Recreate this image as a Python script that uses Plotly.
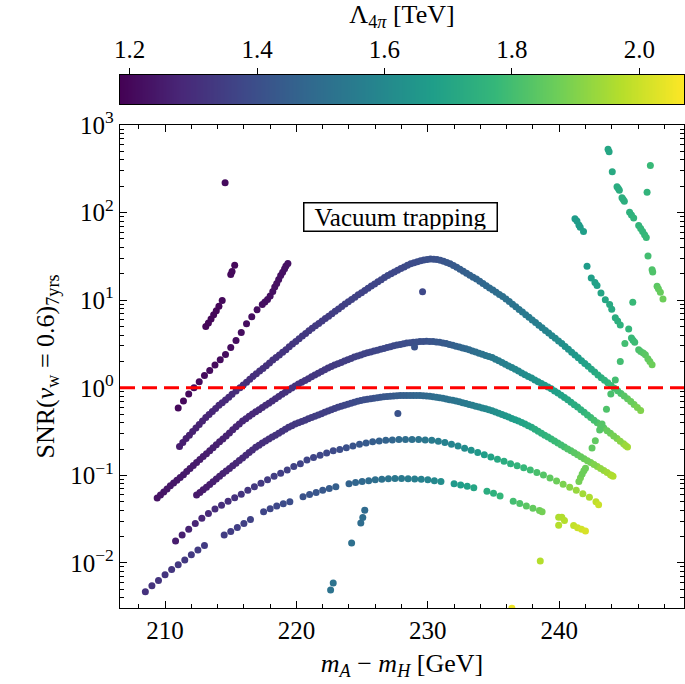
import numpy as np
import plotly.graph_objects as go

# ---------------- data ----------------
ARC1_X = [211.1, 211.6, 212.1, 212.6, 213.1, 213.6, 214.1, 214.6, 215.1, 215.7, 216.2, 216.7, 217.2, 217.7, 218.2,
          218.7, 219.2, 219.7, 220.2, 220.7, 221.2, 221.7, 222.2, 222.7, 223.2, 223.7, 224.2, 224.7, 225.2, 225.7,
          226.2, 226.7, 227.2, 227.7, 228.2, 228.7, 229.2, 229.7, 230.2, 230.7, 231.2, 231.7, 232.2, 232.7, 233.2,
          233.7, 234.2, 234.7, 235.2, 235.7, 236.2, 236.7, 237.2, 237.7, 238.2, 238.7, 239.2, 239.7, 240.2, 240.7,
          241.2, 241.7, 242.2, 242.7, 243.2, 243.7, 244.2, 244.7, 245.2, 245.7, 246.2]
ARC1_Y = [0.214, 0.263, 0.316, 0.380, 0.457, 0.537, 0.631, 0.724, 0.841, 1.00, 1.16, 1.35, 1.55, 1.78, 2.07,
          2.37, 2.72, 3.16, 3.63, 4.17, 4.79, 5.43, 6.17, 7.00, 7.94, 9.02, 10.2, 11.5, 12.9, 14.5,
          16.2, 18.2, 20.0, 21.9, 24.0, 26.0, 27.5, 28.8, 29.5, 29.2, 27.9, 26.0, 23.7, 21.4, 19.3,
          17.4, 15.5, 13.8, 12.3, 11.0, 9.66, 8.41, 7.33, 6.38, 5.56, 4.84, 4.22, 3.67, 3.20, 2.75,
          2.37, 2.04, 1.76, 1.51, 1.30, 1.14, 0.989, 0.861, 0.750, 0.646, 0.550]
ARC1_L = [1.255, 1.26, 1.265, 1.27, 1.275, 1.28, 1.285, 1.29, 1.295, 1.30, 1.30, 1.305, 1.31, 1.31, 1.315,
          1.32, 1.32, 1.325, 1.33, 1.33, 1.335, 1.34, 1.34, 1.345, 1.35, 1.355, 1.36, 1.36, 1.365, 1.37,
          1.37, 1.375, 1.38, 1.38, 1.385, 1.39, 1.395, 1.40, 1.405, 1.41, 1.42, 1.43, 1.44, 1.45, 1.46,
          1.47, 1.48, 1.49, 1.50, 1.51, 1.52, 1.53, 1.54, 1.55, 1.56, 1.575, 1.59, 1.605, 1.62, 1.64,
          1.66, 1.68, 1.70, 1.72, 1.745, 1.77, 1.795, 1.82, 1.85, 1.875, 1.90]
# further readings of the same (dense) band, between the points above
ARC1B_X = [211.35, 211.85, 212.35, 212.85, 213.35, 213.85, 214.35, 214.85, 215.4, 215.95, 216.45, 216.95, 217.45,
           217.95, 218.45, 218.95, 219.45, 219.95, 220.45, 220.95, 221.45, 221.95, 222.45, 222.95, 223.45, 223.95,
           224.45, 224.95, 225.45, 225.95, 226.45, 226.95, 227.45, 227.95, 228.45, 228.95, 229.45, 229.95, 230.45,
           230.95, 231.45, 231.95, 232.45, 232.95, 233.45, 233.95, 234.45, 234.95, 235.45, 235.95, 236.45, 236.95,
           237.45, 237.95, 238.45, 238.95, 239.45, 239.95, 240.45, 240.95, 241.45, 241.95, 242.45, 242.95, 243.45,
           243.95, 244.45, 244.95, 245.45, 245.95]
ARC1B_Y = [0.237, 0.288, 0.347, 0.417, 0.495, 0.582, 0.676, 0.780, 0.917, 1.077, 1.251, 1.447, 1.661, 1.920,
           2.215, 2.539, 2.932, 3.387, 3.891, 4.469, 5.100, 5.788, 6.572, 7.455, 8.463, 9.592, 10.83, 12.18, 13.68,
           15.33, 17.17, 19.08, 20.93, 22.93, 24.98, 26.74, 28.14, 29.15, 29.35, 28.54, 26.93, 24.82, 22.52, 20.32,
           18.33, 16.42, 14.63, 13.03, 11.63, 10.31, 9.013, 7.852, 6.838, 5.956, 5.187, 4.519, 3.935, 3.427, 2.966,
           2.553, 2.199, 1.895, 1.630, 1.401, 1.217, 1.062, 0.923, 0.804, 0.696, 0.596]
ARC1B_L = [1.2575, 1.2625, 1.2675, 1.2725, 1.2775, 1.2825, 1.2875, 1.2925, 1.2975, 1.30, 1.3025, 1.3075, 1.31,
           1.3125, 1.3175, 1.32, 1.3225, 1.3275, 1.33, 1.3325, 1.3375, 1.34, 1.3425, 1.3475, 1.3525, 1.3575, 1.36,
           1.3625, 1.3675, 1.37, 1.3725, 1.3775, 1.38, 1.3825, 1.3875, 1.3925, 1.3975, 1.4025, 1.4075, 1.415, 1.425,
           1.435, 1.445, 1.455, 1.465, 1.475, 1.485, 1.495, 1.505, 1.515, 1.525, 1.535, 1.545, 1.555, 1.5675, 1.5825,
           1.5975, 1.6125, 1.63, 1.65, 1.67, 1.69, 1.71, 1.7325, 1.7575, 1.7825, 1.8075, 1.835, 1.8625, 1.8875]

ARC2_X = [209.4, 209.9, 210.4, 210.9, 211.4, 211.9, 212.4, 212.9, 213.4, 213.9,
          214.4, 214.9, 215.4, 215.9, 216.4, 216.9, 217.4, 217.9, 218.4, 218.9,
          219.4, 219.9, 220.4, 220.9, 221.4, 221.9, 222.4, 222.9, 223.4, 223.9,
          224.4, 224.9, 225.4, 225.9, 226.4, 226.9, 227.4, 227.9, 228.4, 228.9,
          229.4, 229.9, 230.4, 230.9, 231.4, 231.9, 232.4, 232.9, 233.4, 233.9,
          234.4, 234.9, 235.4, 235.9, 236.4, 236.9, 237.4, 237.9, 238.4, 238.9,
          239.4, 239.9, 240.4, 240.9, 241.4, 241.9, 242.4, 242.9, 243.4, 243.9,
          244.4, 244.9, 245.2]
ARC2_Y = [0.0550, 0.0646, 0.0759, 0.0881, 0.102, 0.120, 0.140, 0.164, 0.191, 0.224,
          0.260, 0.305, 0.359, 0.417, 0.473, 0.531, 0.596, 0.668, 0.750, 0.841,
          0.944, 1.05, 1.16, 1.27, 1.40, 1.53, 1.68, 1.82, 1.95, 2.09,
          2.24, 2.37, 2.51, 2.63, 2.75, 2.88, 3.02, 3.13, 3.24, 3.31,
          3.37, 3.39, 3.37, 3.31, 3.20, 3.05, 2.92, 2.79, 2.63, 2.48,
          2.34, 2.21, 2.04, 1.86, 1.70, 1.55, 1.41, 1.29, 1.17, 1.07,
          0.977, 0.871, 0.776, 0.684, 0.603, 0.525, 0.457, 0.398, 0.347, 0.302,
          0.263, 0.229, 0.211]
ARC2_L = [1.23, 1.235, 1.24, 1.24, 1.245, 1.25, 1.25, 1.255, 1.26, 1.26,
          1.265, 1.27, 1.275, 1.28, 1.285, 1.29, 1.295, 1.30, 1.305, 1.31,
          1.315, 1.32, 1.32, 1.325, 1.33, 1.33, 1.335, 1.34, 1.345, 1.35,
          1.355, 1.36, 1.365, 1.37, 1.375, 1.38, 1.385, 1.39, 1.395, 1.40,
          1.405, 1.41, 1.42, 1.43, 1.44, 1.455, 1.47, 1.485, 1.50, 1.515,
          1.53, 1.545, 1.56, 1.575, 1.59, 1.60, 1.615, 1.63, 1.645, 1.66,
          1.675, 1.69, 1.705, 1.72, 1.74, 1.765, 1.79, 1.82, 1.845, 1.87,
          1.895, 1.925, 1.95]
ARC2B_X = [209.65, 210.15, 210.65, 211.15, 211.65, 212.15, 212.65, 213.15, 213.65, 214.15,
           214.65, 215.15, 215.65, 216.15, 216.65, 217.15, 217.65, 218.15, 218.65, 219.15,
           219.65, 220.15, 220.65, 221.15, 221.65, 222.15, 222.65, 223.15, 223.65, 224.15,
           224.65, 225.15, 225.65, 226.15, 226.65, 227.15, 227.65, 228.15, 228.65, 229.15,
           229.65, 230.15, 230.65, 231.15, 231.65, 232.15, 232.65, 233.15, 233.65, 234.15,
           234.65, 235.15, 235.65, 236.15, 236.65, 237.15, 237.65, 238.15, 238.65, 239.15,
           239.65, 240.15, 240.65, 241.15, 241.65, 242.15, 242.65, 243.15, 243.65, 244.15,
           244.65, 245.05]
ARC2B_Y = [0.0596, 0.0700, 0.0818, 0.0948, 0.1106, 0.1296, 0.1515, 0.1770, 0.2068, 0.2413,
           0.2816, 0.3309, 0.3869, 0.4441, 0.5012, 0.5626, 0.6310, 0.7078, 0.7942, 0.8910,
           0.9956, 1.104, 1.214, 1.333, 1.464, 1.603, 1.749, 1.884, 2.019, 2.164,
           2.304, 2.439, 2.569, 2.689, 2.814, 2.949, 3.075, 3.185, 3.275, 3.340,
           3.380, 3.380, 3.340, 3.255, 3.124, 2.984, 2.854, 2.709, 2.554, 2.409,
           2.274, 2.123, 1.948, 1.778, 1.623, 1.478, 1.349, 1.229, 1.119, 1.022,
           0.922, 0.822, 0.729, 0.642, 0.563, 0.490, 0.426, 0.372, 0.324, 0.282,
           0.245, 0.220]
ARC2B_L = [1.2325, 1.2375, 1.24, 1.2425, 1.2475, 1.25, 1.2525, 1.2575, 1.26, 1.2625,
           1.2675, 1.2725, 1.2775, 1.2825, 1.2875, 1.2925, 1.2975, 1.3025, 1.3075, 1.3125,
           1.3175, 1.32, 1.3225, 1.3275, 1.33, 1.3325, 1.3375, 1.3425, 1.3475, 1.3525,
           1.3575, 1.3625, 1.3675, 1.3725, 1.3775, 1.3825, 1.3875, 1.3925, 1.3975, 1.4025,
           1.4075, 1.415, 1.425, 1.435, 1.4475, 1.4625, 1.4775, 1.4925, 1.5075, 1.5225,
           1.5375, 1.5525, 1.5675, 1.5825, 1.595, 1.6075, 1.6225, 1.6375, 1.6525, 1.6675,
           1.6825, 1.6975, 1.7125, 1.73, 1.7525, 1.7775, 1.805, 1.8325, 1.8575, 1.8825,
           1.91, 1.9375]

ARC3_X = [212.4, 212.9, 213.4, 213.9, 214.4, 214.9, 215.4, 215.9, 216.4, 216.9,
          217.4, 217.9, 218.4, 218.9, 219.4, 219.9, 220.4, 220.9, 221.4, 221.9,
          222.4, 222.9, 223.4, 223.9, 224.4, 224.9, 225.4, 225.9, 226.4, 226.9,
          227.4, 227.9, 228.4, 228.9, 229.4, 229.9, 230.4, 230.9, 231.4, 231.9,
          232.4, 232.9, 233.4, 233.9, 234.4, 234.9, 235.4, 235.9, 236.4, 236.9,
          237.4, 237.9, 238.4, 238.9, 239.4, 239.9, 240.4, 240.9, 241.4, 241.9,
          242.4, 242.9, 243.4, 243.9, 244.1]
ARC3_Y = [0.0596, 0.0684, 0.0785, 0.0912, 0.105, 0.120, 0.138, 0.158, 0.182, 0.209,
          0.234, 0.260, 0.288, 0.320, 0.355, 0.385, 0.412, 0.442, 0.473, 0.507,
          0.543, 0.582, 0.617, 0.650, 0.684, 0.716, 0.741, 0.762, 0.780, 0.796,
          0.807, 0.815, 0.818, 0.818, 0.815, 0.805, 0.791, 0.771, 0.746, 0.719,
          0.692, 0.661, 0.631, 0.603, 0.575, 0.547, 0.513, 0.479, 0.447, 0.417,
          0.385, 0.355, 0.320, 0.288, 0.260, 0.234, 0.211, 0.191, 0.172, 0.155,
          0.140, 0.126, 0.114, 0.102, 0.0977]
ARC3_L = [1.245, 1.25, 1.255, 1.26, 1.27, 1.275, 1.28, 1.29, 1.295, 1.30,
          1.305, 1.31, 1.315, 1.32, 1.325, 1.33, 1.335, 1.34, 1.345, 1.35,
          1.355, 1.36, 1.37, 1.38, 1.385, 1.395, 1.40, 1.41, 1.42, 1.43,
          1.44, 1.45, 1.46, 1.47, 1.48, 1.49, 1.50, 1.51, 1.515, 1.525,
          1.535, 1.55, 1.565, 1.58, 1.595, 1.615, 1.635, 1.65, 1.67, 1.685,
          1.70, 1.72, 1.74, 1.755, 1.775, 1.79, 1.81, 1.83, 1.85, 1.865,
          1.885, 1.91, 1.93, 1.955, 1.97]
ARC3B_X = [212.65, 213.15, 213.65, 214.15, 214.65, 215.15, 215.65, 216.15, 216.65, 217.15,
           217.65, 218.15, 218.65, 219.15, 219.65, 220.15, 220.65, 221.15, 221.65, 222.15,
           222.65, 223.15, 223.65, 224.15, 224.65, 225.15, 225.65, 226.15, 226.65, 227.15,
           227.65, 228.15, 228.65, 229.15, 229.65, 230.15, 230.65, 231.15, 231.65, 232.15,
           232.65, 233.15, 233.65, 234.15, 234.65, 235.15, 235.65, 236.15, 236.65, 237.15,
           237.65, 238.15, 238.65, 239.15, 239.65, 240.15, 240.65, 241.15, 241.65, 242.15,
           242.65, 243.15, 243.65, 244.0]
ARC3B_Y = [0.0638, 0.0733, 0.0846, 0.0979, 0.1122, 0.1287, 0.1477, 0.1696, 0.1950, 0.2211,
           0.2467, 0.2736, 0.3036, 0.3370, 0.3697, 0.3983, 0.4267, 0.4572, 0.4897, 0.5247,
           0.5622, 0.5992, 0.6333, 0.6668, 0.6998, 0.7284, 0.7514, 0.7709, 0.7880, 0.8015,
           0.8110, 0.8165, 0.818, 0.8165, 0.8100, 0.7980, 0.7809, 0.7584, 0.7324, 0.7054,
           0.6763, 0.6458, 0.6168, 0.5888, 0.5608, 0.5297, 0.4957, 0.4627, 0.4317, 0.4007,
           0.3697, 0.3371, 0.3036, 0.2736, 0.2467, 0.2222, 0.2007, 0.1813, 0.1633, 0.1473,
           0.1328, 0.1198, 0.1078, 0.0998]
ARC3B_L = [1.2475, 1.2525, 1.2575, 1.265, 1.2725, 1.2775, 1.285, 1.2925, 1.2975, 1.3025,
           1.3075, 1.3125, 1.3175, 1.3225, 1.3275, 1.3325, 1.3375, 1.3425, 1.3475, 1.3525,
           1.3575, 1.365, 1.375, 1.3825, 1.39, 1.3975, 1.405, 1.415, 1.425, 1.435,
           1.445, 1.455, 1.465, 1.475, 1.485, 1.495, 1.505, 1.5125, 1.52, 1.53,
           1.5425, 1.5575, 1.5725, 1.5875, 1.605, 1.625, 1.6425, 1.66, 1.6775, 1.6925,
           1.71, 1.73, 1.7475, 1.765, 1.7825, 1.80, 1.82, 1.84, 1.8575, 1.875,
           1.8975, 1.92, 1.9425, 1.9625]

ARC4_X = [210.8, 211.3, 211.8, 212.3, 212.8, 213.3, 213.8, 214.3, 214.8, 215.3,
          215.8, 216.3, 216.8, 217.3, 217.8, 218.3, 218.8, 219.3, 219.8, 220.3,
          220.8, 221.3, 221.8, 222.3, 222.8, 223.3, 223.8, 224.3, 224.8, 225.3,
          225.8, 226.3, 226.8, 227.3, 227.8, 228.3, 228.8, 229.3, 229.8, 230.3,
          230.8, 231.3, 231.8, 232.3, 232.8, 233.3, 233.8, 234.3, 234.8, 235.3,
          235.8, 236.3, 236.8, 237.3, 237.8, 238.3, 238.8, 239.3, 239.8, 240.3,
          240.8, 241.3, 241.8, 242.3, 242.8, 243.0]
ARC4_Y = [0.0178, 0.0209, 0.0243, 0.0282, 0.0324, 0.0367, 0.0412, 0.0457, 0.0507, 0.0556,
          0.0610, 0.0676, 0.0741, 0.0813, 0.0891, 0.0977, 0.106, 0.115, 0.126, 0.136,
          0.150, 0.160, 0.170, 0.180, 0.191, 0.197, 0.207, 0.216, 0.226, 0.234,
          0.242, 0.247, 0.251, 0.254, 0.256, 0.257, 0.257, 0.256, 0.254, 0.251,
          0.245, 0.237, 0.226, 0.216, 0.204, 0.193, 0.182, 0.172, 0.162, 0.153,
          0.145, 0.136, 0.129, 0.122, 0.115, 0.108, 0.101, 0.0933, 0.0861, 0.0794,
          0.0733, 0.0676, 0.0617, 0.0562, 0.0501, 0.0462]
ARC4_L = [1.255, 1.26, 1.27, 1.275, 1.28, 1.29, 1.295, 1.30, 1.305, 1.31,
          1.32, 1.325, 1.33, 1.335, 1.34, 1.345, 1.35, 1.355, 1.36, 1.365,
          1.37, 1.37, 1.375, 1.38, 1.385, 1.395, 1.405, 1.415, 1.425, 1.435,
          1.445, 1.455, 1.465, 1.475, 1.49, 1.50, 1.51, 1.525, 1.535, 1.55,
          1.56, 1.575, 1.585, 1.60, 1.615, 1.635, 1.655, 1.675, 1.695, 1.715,
          1.73, 1.745, 1.76, 1.775, 1.79, 1.81, 1.83, 1.85, 1.87, 1.89,
          1.91, 1.93, 1.945, 1.96, 1.985, 2.0]

ARC5_X = [208.5, 209.0, 209.5, 210.0, 210.5, 211.0, 211.5, 212.0, 212.5, 213.0,
          214.5, 215.0, 215.5, 216.0, 216.5, 217.5, 218.0, 218.5, 219.0, 219.5,
          220.5, 221.0, 221.5, 222.0, 222.5, 223.0, 224.0, 224.5, 225.0, 225.5,
          226.0, 226.5, 227.0, 227.5, 228.0, 228.5, 229.0, 229.5, 230.0, 230.5,
          231.0, 232.0, 232.5, 233.0, 233.5, 234.5, 235.0, 235.5, 236.5, 237.0,
          237.5, 238.0, 238.5, 238.7]
ARC5_Y = [0.00468, 0.00550, 0.00631, 0.00733, 0.00841, 0.00955, 0.0108, 0.0124, 0.0141, 0.0158,
          0.0209, 0.0229, 0.0254, 0.0282, 0.0313, 0.0385, 0.0417, 0.0447, 0.0473, 0.0501,
          0.0569, 0.0603, 0.0638, 0.0676, 0.0708, 0.0741, 0.0804, 0.0832, 0.0851, 0.0871,
          0.0891, 0.0906, 0.0916, 0.0923, 0.0923, 0.0918, 0.0912, 0.0902, 0.0891, 0.0871,
          0.0851, 0.0804, 0.0776, 0.0750, 0.0724, 0.0661, 0.0624, 0.0582, 0.0507, 0.0479,
          0.0447, 0.0422, 0.0398, 0.0385]
ARC5_L = [1.31, 1.315, 1.32, 1.32, 1.325, 1.33, 1.33, 1.335, 1.34, 1.34,
          1.345, 1.345, 1.35, 1.355, 1.36, 1.37, 1.375, 1.38, 1.39, 1.395,
          1.41, 1.415, 1.42, 1.43, 1.44, 1.45, 1.465, 1.475, 1.485, 1.495,
          1.505, 1.515, 1.525, 1.535, 1.545, 1.555, 1.565, 1.575, 1.585, 1.60,
          1.62, 1.66, 1.675, 1.69, 1.705, 1.735, 1.75, 1.77, 1.80, 1.82,
          1.84, 1.855, 1.87, 1.88]

TAIL_X = [239.96, 240.2, 240.4, 239.96, 241.1, 241.4, 241.7, 242.0]
TAIL_Y = [0.0333, 0.0333, 0.0305, 0.027, 0.0267, 0.0253, 0.0243, 0.0232]
TAIL_L = [1.96, 1.965, 1.97, 1.97, 1.99, 2.0, 2.01, 2.02]

L1_X = [213.1, 213.3, 213.5, 213.7, 213.9, 214.1, 214.35, 215.0, 215.1, 215.3]
L1_Y = [5.0, 5.5, 6.1, 6.8, 7.6, 8.5, 9.9, 19.6, 21.3, 25.0]
L1_L = [1.20, 1.20, 1.20, 1.20, 1.20, 1.20, 1.205, 1.205, 1.205, 1.205]

L2_X = [211.0, 211.4, 211.8, 212.2, 212.6, 213.0, 213.4, 213.8, 214.2, 214.6, 215.0, 215.4, 215.8, 216.2, 216.6,
        217.0, 217.4, 217.6, 217.8, 218.0, 218.2, 218.35, 218.5, 218.65, 218.8, 218.95, 219.1, 219.2, 219.35]
L2_Y = [0.589, 0.708, 0.851, 1.00, 1.17, 1.38, 1.58, 1.82, 2.09, 2.40, 2.88, 3.47, 4.27, 5.37, 6.46,
        7.76, 8.91, 9.55, 10.2, 11.2, 12.6, 14.1, 15.5, 17.2, 19.1, 20.9, 22.9, 24.5, 26.3]
L2_L = [1.205, 1.205, 1.206, 1.207, 1.208, 1.209, 1.21, 1.21, 1.211, 1.212, 1.213, 1.214, 1.215, 1.216, 1.217,
        1.218, 1.219, 1.22, 1.22, 1.221, 1.221, 1.222, 1.222, 1.223, 1.223, 1.224, 1.224, 1.225, 1.225]

ISO_X = [214.57, 229.6, 227.72, 228.99, 238.56, 236.4, 245.6, 245.0]
ISO_Y = [219, 12.5, 0.51, 2.92, 0.0105, 0.00305, 9.5, 3.2]
ISO_L = [1.21, 1.38, 1.41, 1.41, 1.97, 2.05, 1.78, 1.80]

TEAL_X = [222.6, 222.8, 224.2, 224.9, 225.05, 225.2]
TEAL_Y = [0.0049, 0.0059, 0.0169, 0.0286, 0.033, 0.040]
TEAL_L = [1.52, 1.52, 1.51, 1.50, 1.50, 1.49]

R1_X = [243.72, 243.8, 244.04, 244.4, 244.5, 244.58, 244.78, 244.87, 244.96, 245.36, 245.5, 245.67,
        246.05, 246.2, 246.35, 246.5, 246.63, 246.76, 247.07, 247.12, 247.45, 247.55, 247.7, 247.9]
R1_Y = [530, 495, 292, 197, 188, 180, 148, 141, 135, 101, 94, 87,
        71, 66, 61, 56, 52, 32, 22.3, 21, 14.4, 13.5, 12.3, 10.3]
R1_L = [1.71, 1.71, 1.72, 1.73, 1.73, 1.73, 1.74, 1.74, 1.74, 1.75, 1.75, 1.76,
        1.76, 1.77, 1.77, 1.77, 1.78, 1.80, 1.82, 1.82, 1.84, 1.85, 1.86, 1.87]

R2_X = [246.94, 246.69]
R2_Y = [344, 171]
R2_L = [1.78, 1.76]

R3_X = [241.2, 241.35, 241.5, 241.6, 241.85]
R3_Y = [85, 80, 72, 68, 61]
R3_L = [1.67, 1.67, 1.67, 1.67, 1.68]

R4_X = [242.12, 242.44, 242.72, 242.88, 243.18, 243.51, 243.84, 244.0, 244.27, 244.45, 244.65,
        245.29, 245.5, 245.62, 245.75, 246.05, 246.2, 246.4, 246.56, 246.75, 246.9, 247.07]
R4_Y = [24.4, 17.9, 15.9, 14.7, 12.1, 10.1, 8.9, 7.9, 6.3, 5.8, 5.2,
        4.7, 3.7, 3.5, 3.3, 2.72, 2.6, 2.5, 2.38, 2.15, 2.0, 1.83]
R4_L = [1.67, 1.68, 1.69, 1.69, 1.70, 1.71, 1.72, 1.72, 1.73, 1.74, 1.75,
        1.77, 1.78, 1.78, 1.79, 1.81, 1.82, 1.83, 1.84, 1.85, 1.86, 1.87]

R5_X = [241.5, 241.62, 241.75, 241.88, 242.0, 242.5, 242.75, 243.08, 243.26, 243.6, 243.93, 244.27, 244.65]
R5_Y = [0.085, 0.094, 0.104, 0.113, 0.121, 0.205, 0.248, 0.33, 0.385, 0.57, 0.85, 1.23, 2.0]
R5_L = [1.88, 1.88, 1.87, 1.87, 1.87, 1.85, 1.85, 1.83, 1.83, 1.82, 1.81, 1.80, 1.80]

X_TICKS = [210, 220, 230, 240]
Y_TICKS = [1e-2, 1e-1, 1e0, 1e1, 1e2, 1e3]
Y_TICKTEXT = ["10<sup>−2</sup>", "10<sup>−1</sup>", "10<sup>0</sup>", "10<sup>1</sup>", "10<sup>2</sup>", "10<sup>3</sup>"]
CB_TICKS = [1.2, 1.4, 1.6, 1.8, 2.0]
CB_TICKTEXT = ["1.2", "1.4", "1.6", "1.8", "2.0"]
CB_RANGE = [1.185, 2.07]
THRESHOLD = 1.0

SERIES = [
    (ARC1_X, ARC1_Y, ARC1_L), (ARC1B_X, ARC1B_Y, ARC1B_L),
    (ARC2_X, ARC2_Y, ARC2_L), (ARC2B_X, ARC2B_Y, ARC2B_L),
    (ARC3_X, ARC3_Y, ARC3_L), (ARC3B_X, ARC3B_Y, ARC3B_L),
    (ARC4_X, ARC4_Y, ARC4_L), (ARC5_X, ARC5_Y, ARC5_L), (TAIL_X, TAIL_Y, TAIL_L),
    (L1_X, L1_Y, L1_L), (L2_X, L2_Y, L2_L), (ISO_X, ISO_Y, ISO_L), (TEAL_X, TEAL_Y, TEAL_L),
    (R1_X, R1_Y, R1_L), (R2_X, R2_Y, R2_L), (R3_X, R3_Y, R3_L), (R4_X, R4_Y, R4_L), (R5_X, R5_Y, R5_L),
]

FONT = "Liberation Serif, Times New Roman, serif"
TXT = dict(family=FONT, color="black")

# ---------------- layout geometry (pixels) ----------------
W, H = 685, 684
M_L, M_R, M_T, M_B = 120, 1, 75, 76      # outer plotting region: colorbar top .. x-axis
PLOT_TOP, PLOT_BOT = 125, 608
CB_TOP, CB_BOT = 75, 104
AREA_H = H - M_T - M_B


def frac(py):
    return (PLOT_BOT - py) / AREA_H


fig = go.Figure()
for xs, ys, ls in SERIES:
    assert len(xs) == len(ys) == len(ls), (len(xs), len(ys), len(ls))
    fig.add_trace(go.Scatter(
        x=xs, y=ys, mode="markers", xaxis="x", yaxis="y",
        marker=dict(size=7, color=ls, coloraxis="coloraxis", line=dict(width=0)),
        showlegend=False, hoverinfo="skip",
    ))

# colour bar drawn as a gradient strip on its own axis (ticks & labels on top, as in the reference)
cb_vals = np.linspace(CB_RANGE[0], CB_RANGE[1], 400)
fig.add_trace(go.Heatmap(
    x=cb_vals, y=[0.5], z=[cb_vals], coloraxis="coloraxis", xaxis="x2", yaxis="y2",
    hoverinfo="skip", showscale=False,
))

# minor log ticks
minor_y = [k * 10.0 ** d for d in range(-3, 3) for k in range(2, 10)]

fig.add_shape(type="line", xref="x domain", x0=0, x1=1, yref="y", y0=THRESHOLD, y1=THRESHOLD,
              line=dict(color="red", width=3, dash="15px,7px"), layer="above")

fig.add_annotation(text="Vacuum trapping", xref="x domain", yref="y domain", x=0.4965, y=0.8406,
                   showarrow=False, font=dict(size=25, **TXT),
                   bgcolor="white", bordercolor="black", borderwidth=1.5, borderpad=1,
                   width=190, height=25)

axis_common = dict(
    showline=True, linecolor="black", linewidth=1.3, mirror="allticks",
    ticks="inside", tickcolor="black", tickwidth=1.2, ticklen=7,
    showgrid=False, zeroline=False,
    tickfont=dict(size=25, **TXT),
)

fig.update_layout(
    width=W, height=H,
    margin=dict(l=M_L, r=M_R, t=M_T, b=M_B, autoexpand=False),
    paper_bgcolor="white", plot_bgcolor="white",
    font=TXT,
    xaxis=dict(
        domain=[0, 1], anchor="y",
        range=[206.57, 249.5], tickmode="linear", tick0=200, dtick=10,
        minor=dict(ticks="inside", ticklen=4, tickwidth=1, tickcolor="black", dtick=2, tick0=200),
        title=dict(text="<i>m</i><sub><i>A</i></sub> − <i>m</i><sub><i>H</i></sub> [GeV]",
                   font=dict(size=26, **TXT), standoff=10),
        **axis_common,
    ),
    yaxis=dict(
        domain=[0, frac(PLOT_TOP)], anchor="x",
        type="log", range=[-2.514, 3.0], tickmode="array", tickvals=Y_TICKS, ticktext=Y_TICKTEXT,
        minor=dict(ticks="inside", ticklen=4, tickwidth=1, tickcolor="black", tickmode="array", tickvals=minor_y),
        title=dict(text="SNR(<i>v</i><sub>w</sub> = 0.6)<sub>7yrs</sub>",
                   font=dict(size=26, **TXT), standoff=8),
        **axis_common,
    ),
    xaxis2=dict(
        domain=[0, 1], anchor="y2", side="top", range=CB_RANGE,
        tickmode="array", tickvals=CB_TICKS, ticktext=CB_TICKTEXT,
        ticks="outside", ticklen=6, tickwidth=1, tickcolor="black",
        showline=True, linecolor="black", linewidth=1.2, mirror=True,
        showgrid=False, zeroline=False, tickfont=dict(size=25, **TXT),
        title=dict(text="Λ<sub>4<i>π</i></sub> [TeV]", font=dict(size=26, **TXT), standoff=6),
    ),
    yaxis2=dict(
        domain=[frac(CB_BOT), frac(CB_TOP)], anchor="x2", range=[0, 1],
        showticklabels=False, ticks="", showgrid=False, zeroline=False,
        showline=True, linecolor="black", linewidth=1.2, mirror=True,
    ),
    coloraxis=dict(colorscale="Viridis", cmin=CB_RANGE[0], cmax=CB_RANGE[1], showscale=False),
)

fig.write_html("out.html")
